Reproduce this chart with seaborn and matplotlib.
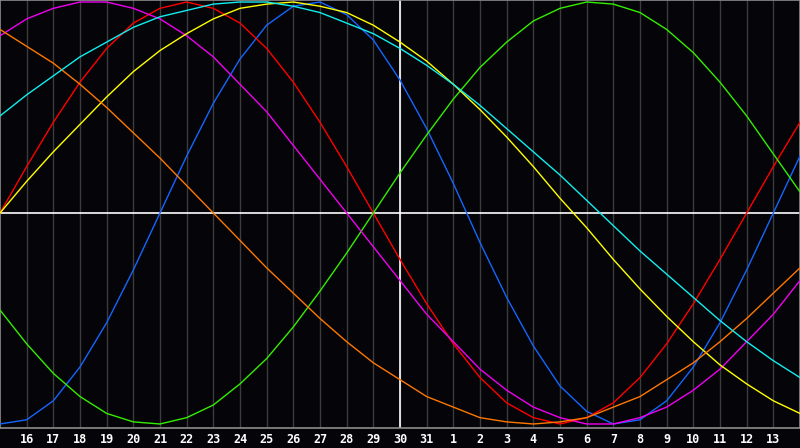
#!/usr/bin/env python3
"""Biorhythm chart: seven cycles over a 30-day window."""

import pandas as pd
import matplotlib
matplotlib.use("Agg")
import matplotlib.pyplot as plt
import seaborn as sns

# day labels shown under each grid line (day 15 at left edge, 14 at right edge)
days = [15, 16, 17, 18, 19, 20, 21, 22, 23, 24, 25, 26, 27, 28, 29, 30, 31,
        1, 2, 3, 4, 5, 6, 7, 8, 9, 10, 11, 12, 13, 14]

# cycle values (percent) read at each day
physical = [-100, -98, -89, -73, -52, -27, 0, 27, 52, 73, 89, 98, 100, 94, 82, 63,
            40, 14, -14, -40, -63, -82, -94, -100, -98, -89, -73, -52, -27, 0, 27]
emotional = [0, 22, 43, 62, 78, 90, 97, 100, 97, 90, 78, 62, 43, 22, 0, -22,
             -43, -62, -78, -90, -97, -100, -97, -90, -78, -62, -43, -22, 0, 22, 43]
intellectual = [-46, -62, -76, -87, -95, -99, -100, -97, -91, -81, -69, -54, -37, -19, 0, 19,
                37, 54, 69, 81, 91, 97, 100, 99, 95, 87, 76, 62, 46, 28, 10]
intuitive = [84, 92, 97, 100, 100, 97, 92, 84, 74, 61, 48, 32, 16, 0, -16, -32,
             -48, -61, -74, -84, -92, -97, -100, -100, -97, -92, -84, -74, -61, -48, -32]
aesthetic = [0, 15, 29, 42, 55, 67, 77, 85, 92, 97, 99, 100, 98, 95, 89, 81,
             72, 61, 49, 36, 22, 7, -7, -22, -36, -49, -61, -72, -81, -89, -95]
awareness = [87, 79, 71, 61, 50, 38, 26, 13, 0, -13, -26, -38, -50, -61, -71, -79,
             -87, -92, -97, -99, -100, -99, -97, -92, -87, -79, -71, -61, -50, -38, -26]
spiritual = [46, 56, 65, 74, 81, 88, 93, 96, 99, 100, 100, 98, 95, 90, 85, 78,
             70, 61, 51, 40, 29, 18, 6, -6, -18, -29, -40, -51, -61, -70, -78]

series = {
    "physical": physical,
    "emotional": emotional,
    "intellectual": intellectual,
    "intuitive": intuitive,
    "aesthetic": aesthetic,
    "awareness": awareness,
    "spiritual": spiritual,
}
colors = {
    "physical": "#1466ff",
    "emotional": "#ff0000",
    "intellectual": "#33ee00",
    "intuitive": "#f000f0",
    "aesthetic": "#ffff00",
    "awareness": "#ff7700",
    "spiritual": "#11eeee",
}

bg = "#050408"
grid = "#3c3c3c"
border = "#8c8c8c"

rows = []
for name, vals in series.items():
    for i, v in enumerate(vals):
        rows.append({"pos": i, "value": v, "cycle": name})
df = pd.DataFrame(rows)

sns.set_style("dark")
fig = plt.figure(figsize=(8, 4.48), dpi=100, facecolor=bg)
ax = fig.add_axes([0, 20 / 448, 1, 428 / 448])
ax.set_facecolor(bg)

# vertical day lines
for i in range(1, len(days) - 1):
    ax.axvline(i, color=grid, lw=1, zorder=1)
# centre cross
ax.axvline(15, color="white", lw=1.2, zorder=2)
ax.axhline(0, color="white", lw=1.2, zorder=2)

sns.lineplot(data=df, x="pos", y="value", hue="cycle", palette=colors,
             linewidth=1.0, legend=False, ax=ax, zorder=3)

ax.set_xlim(0, len(days) - 1)
ax.set_ylim(-101.9, 100.95)
ax.set_xticks([])
ax.set_yticks([])
ax.set_xlabel("")
ax.set_ylabel("")
for side in ["top", "bottom", "left", "right"]:
    ax.spines[side].set_visible(True)
    ax.spines[side].set_color(border)
    ax.spines[side].set_linewidth(1.2)

# day labels in the strip below
for i in range(1, len(days) - 1):
    fig.text(i / (len(days) - 1), 9 / 448, str(days[i]), color="white",
             ha="center", va="center", fontsize=8.5, fontweight="bold",
             family="DejaVu Sans Mono")

plt.savefig("out.png", dpi=100, facecolor=bg)
